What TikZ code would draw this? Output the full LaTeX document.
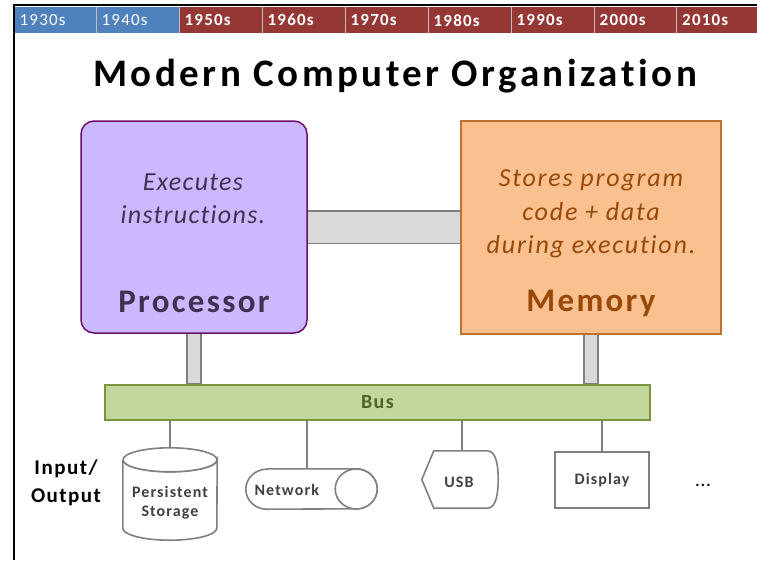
\documentclass[tikz,border=0pt]{standalone}
\usepackage{fontspec}
\setmainfont{Carlito}[LetterSpace=7, Ligatures=CommonOff]
\usetikzlibrary{calc}
\definecolor{eraold}{HTML}{4F81BD}
\definecolor{eranew}{HTML}{953735}
\definecolor{procfill}{HTML}{CCB8FF}
\definecolor{procline}{HTML}{6A0F6E}
\definecolor{proctext}{HTML}{403152}
\definecolor{memfill}{HTML}{FAC090}
\definecolor{memline}{HTML}{C0712F}
\definecolor{memtext}{HTML}{984807}
\definecolor{busfill}{HTML}{C3D69B}
\definecolor{busline}{HTML}{77933C}
\definecolor{bustext}{HTML}{4F6228}
\definecolor{linkfill}{HTML}{D9D9D9}
\definecolor{linkline}{HTML}{808080}
\definecolor{iotext}{HTML}{404040}
\tikzset{
  era/.style={minimum width=83pt, minimum height=26pt, inner sep=0pt, anchor=north west,
    text=white, font=\fontsize{17}{17}\selectfont, align=left, text width=72pt},
  oldera/.style={era, fill=eraold},
  newera/.style={era, fill=eranew, font=\fontsize{17}{17}\selectfont\bfseries},
  sep/.style={draw=white!75!black, line width=1pt},
  unit/.style={rectangle, minimum width=#1, minimum height=212pt, inner sep=0pt, line width=1.5pt},
  linkbar/.style={fill=linkfill, draw=linkline, line width=1.5pt},
  busbox/.style={rectangle, minimum width=545pt, minimum height=35pt, inner sep=0pt,
    fill=busfill, draw=busline, line width=1.8pt},
  buslbl/.style={font=\fontsize{20}{20}\selectfont\bfseries, text=bustext},
  iodev/.style={draw=linkline, line width=1.6pt, fill=white},
  iolabel/.style={text=iotext, font=\fontsize{16}{19}\selectfont\bfseries, align=center},
  iowire/.style={draw=linkline, line width=1.6pt},
}
\begin{document}
\begin{tikzpicture}[x=1pt, y=-1pt]
  \fill[white] (0,0) rectangle (757,560);
  \useasboundingbox (0,0) rectangle (757,560);

  % decade strip
  \node[oldera] (t1) at (14,7) {1930s};
  \node[oldera] (t2) at (96,7) {1940s};
  \node[newera] (t3) at (179,7) {1950s};
  \node[newera] (t4) at (262,7) {1960s};
  \node[newera] (t5) at (345,7) {1970s};
  \node[newera] (t6) at (428,7) {1980s};
  \node[newera] (t7) at (511,7) {1990s};
  \node[newera] (t8) at (594,7) {2000s};
  \node[newera, minimum width=84pt] (t9) at (676,7) {2010s};
  \foreach \c in {t2,t3,t4,t5,t6,t7,t8,t9}
    \draw[sep] (\c.north west) -- (\c.south west);

  % slide frame
  \draw[black, line width=2.5pt] (14,5) -- (757,5);
  \draw[black, line width=2.5pt] (14,4) -- (14,560);

  % title
  \node[font=\fontsize{39}{40}\selectfont\bfseries\addfontfeature{LetterSpace=9}] (title) at (395,76) {Modern Computer Organization};

  % unit positions
  \coordinate (pc) at (194,227);
  \coordinate (mc) at (591,227.5);
  \node[busbox] (bus) at (377.5,402.5) {};

  % links drawn beneath the units
  \draw[linkbar] ($(pc)+(113,-16)$) rectangle ($(mc)+(-130,16)$);
  \draw[linkbar] ($(pc)+(-7,100)$) rectangle ([xshift=7pt]bus.north -| pc);
  \draw[linkbar] ($(mc)+(-7,100)$) rectangle ([xshift=7pt]bus.north -| mc);

  % bus redrawn over the link ends
  \node[busbox] at (bus) {};
  \node[buslbl] (buslabel) at (bus) {Bus};

  % processor
  \node[unit=226pt, rounded corners=13pt, fill=procfill, draw=procline] (proc) at (pc) {};
  \node[text=proctext, font=\fontsize{26}{33}\selectfont\itshape\addfontfeature{LetterSpace=5}, align=center] (procdesc) at (193,199) {Executes\\instructions.};
  \node[text=proctext, font=\fontsize{33}{33}\selectfont\bfseries] (procname) at (194,302) {Processor};

  % memory
  \node[unit=260pt, minimum height=213pt, fill=memfill, draw=memline] (mem) at (mc) {};
  \node[text=memtext, font=\fontsize{26}{33.5}\selectfont\itshape, align=center] (memdesc) at (591,214) {Stores program\\code + data\\during execution.};
  \node[text=memtext, font=\fontsize{33}{33}\selectfont\bfseries] (memname) at (591,303) {Memory};

  % input/output devices
  \node[font=\fontsize{21}{28}\selectfont\bfseries, align=center] (iohead) at (66,483) {Input/\\Output};

  % persistent storage (cylinder)
  \node[minimum width=94pt, minimum height=92pt, inner sep=0pt] (stor) at (170,494) {};
  \draw[iodev] (stor.north west) ++(0,12) -- ($(stor.south west)+(0,-12)$)
     arc[start angle=180, end angle=360, x radius=47pt, y radius=12pt]
     -- ($(stor.north east)+(0,12)$)
     arc[start angle=0, end angle=-180, x radius=47pt, y radius=12pt];
  \draw[iodev] ($(stor.north)+(0,12)$) ellipse[x radius=47pt, y radius=12pt];
  \node[iolabel] at (170,503) {Persistent\\Storage};

  % network (horizontal drum)
  \node[minimum width=131pt, minimum height=40pt, inner sep=0pt] (net) at (311.5,489) {};
  \draw[iodev] ($(net.north west)+(21,0)$) -- ($(net.north east)+(-21,0)$)
     arc[start angle=90, end angle=-90, x radius=21pt, y radius=20pt]
     -- ($(net.south west)+(21,0)$)
     arc[start angle=-90, end angle=-270, x radius=21pt, y radius=20pt] -- cycle;
  \draw[iodev] ($(net.east)+(-21,0)$) ellipse[x radius=21pt, y radius=20pt];
  \node[iolabel, anchor=west] at (251,490) {Network};

  % usb (display-style outline)
  \node[minimum width=76pt, minimum height=57pt, inner sep=0pt] (usb) at (460,479.5) {};
  \draw[iodev] (usb.west) -- ($(usb.north west)+(12,0)$) -- ($(usb.north east)+(-11,0)$)
     .. controls ($(usb.north east)+(-2,0)$) and ($(usb.east)+(0,-14)$) .. (usb.east)
     .. controls ($(usb.east)+(0,14)$) and ($(usb.south east)+(-2,0)$) .. ($(usb.south east)+(-11,0)$)
     -- ($(usb.south west)+(12,0)$) -- cycle;
  \node[iolabel] at (459,482) {USB};

  % display
  \node[iodev, minimum width=94pt, minimum height=56pt, inner sep=0pt] (disp) at (602,480) {};
  \node[iolabel] at (disp) {Display};

  \node[font=\fontsize{16}{16}\selectfont\bfseries] (more) at (703,485) {...};

  % wires from the bus
  \draw[iowire] (bus.south -| stor.north) -- (stor.north);
  \draw[iowire] (bus.south -| 307,0) -- (307,469);
  \draw[iowire] (bus.south -| 462,0) -- (462,451);
  \draw[iowire] (bus.south -| disp.north) -- (disp.north);
\end{tikzpicture}
\end{document}
